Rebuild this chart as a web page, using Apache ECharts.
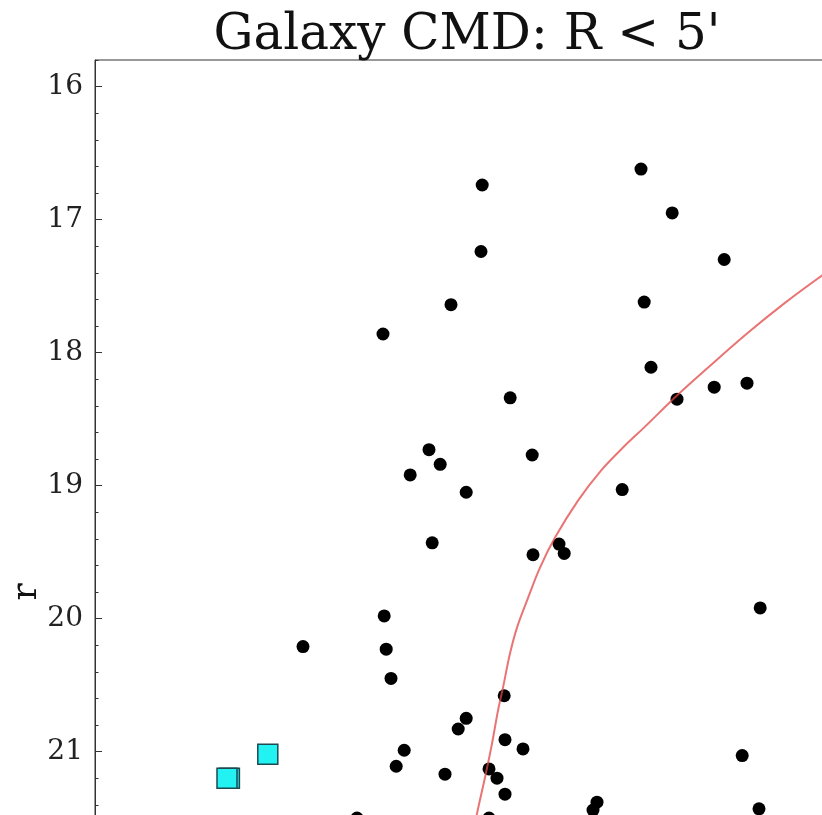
<!DOCTYPE html>
<html>
<head>
<meta charset="utf-8">
<script src="https://cdn.jsdelivr.net/npm/echarts@6/dist/echarts.min.js"></script>
<style>html,body{margin:0;padding:0;background:#fff}#c{width:822px;height:815px}</style>
</head>
<body>
<div id="c"></div>
<script>
// Stars: colour index (x) and r magnitude (y)
const starColor = [0.468,0.465,0.390,0.220,0.865,0.943,1.073,0.873,0.890,0.955,1.048,1.130,0.538,0.335,0.363,0.288,0.593,0.428,0.818,0.343,0.595,0.660,0.673,0.223,0.020,0.228,0.240,1.163,0.523,0.428,0.408,0.525,0.570,0.273,0.253,0.375,0.485,0.505,0.525,1.118,0.755,0.745,1.160,0.155,0.485];
const starMag   = [16.74,17.24,17.64,17.86,16.62,16.95,17.30,17.62,18.11,18.35,18.26,18.23,18.34,18.73,18.84,18.92,18.77,19.05,19.03,19.43,19.52,19.44,19.51,19.98,20.21,20.23,20.45,19.92,20.58,20.75,20.83,20.91,20.98,20.99,21.11,21.17,21.13,21.20,21.32,21.03,21.38,21.44,21.43,21.50,21.50];
// Highlighted objects (cyan squares)
const specColor = [-0.164,-0.170,-0.068];
const specMag   = [21.20,21.20,21.02];
// Isochrone / fiducial line
const isoColor = [0.4425,0.455,0.475,0.4925,0.5075,0.52,0.5375,0.555,0.58,0.6125,0.65,0.7075,0.765,0.825,0.8725,0.955,1.03,1.13,1.2225,1.3175,1.3875];
const isoMag   = [21.669,21.466,21.195,20.940,20.692,20.519,20.263,20.068,19.865,19.617,19.391,19.113,18.887,18.699,18.564,18.323,18.120,17.857,17.632,17.421,17.278];
const majorTicks = [16,17,18,19,20,21,22,23];
const titleText = "Galaxy CMD: R < 5'";
const yName = 'r';

const zip = (a,b) => a.map((v,i)=>[v,b[i]]);
const serif = "'DejaVu Serif', serif";
const chart = echarts.init(document.getElementById('c'));
chart.setOption({
  animation: false,
  backgroundColor: '#fff',
  title: {
    text: titleText, left: 467, top: 11, padding: 0, textAlign: 'center',
    textStyle: {fontFamily: serif, fontSize: 50, fontWeight: 'normal', color: '#111'}
  },
  grid: {left: 95, top: 60, right: -17, bottom: -309, outerBoundsMode: 'none', containLabel: false,
         show: true, borderColor: '#333', borderWidth: 1, backgroundColor: 'transparent'},
  xAxis: {type: 'value', min: -0.5, max: 1.36, show: false, splitLine: {show: false}},
  yAxis: [
    {type: 'value', inverse: true, min: 15.8, max: 23.8, interval: 0.2, position: 'left',
     name: yName, nameLocation: 'middle', nameRotate: 90, nameGap: 50, nameMoveOverlap: false,
     nameTextStyle: {fontFamily: serif, fontSize: 36, color: '#111'},
     axisLine: {show: true, onZero: false, lineStyle: {color: '#333', width: 1}},
     axisTick: {show: true, inside: true, length: 7, customValues: majorTicks, lineStyle: {color: '#333'}},
     axisLabel: {show: true, customValues: majorTicks, margin: 12, fontFamily: serif, fontSize: 28, color: '#222'},
     splitLine: {show: false}},
    {type: 'value', inverse: true, min: 15.8, max: 23.8, interval: 0.2, position: 'left',
     axisLine: {show: false, onZero: false},
     axisTick: {show: true, inside: true, length: 3.5, lineStyle: {color: '#333'}},
     axisLabel: {show: false}, splitLine: {show: false}}
  ],
  series: [
    {type: 'scatter', data: zip(starColor, starMag), symbol: 'circle', symbolSize: 13,
     itemStyle: {color: '#000', opacity: 1}, z: 2},
    {type: 'scatter', data: zip(specColor, specMag), symbol: 'rect', symbolSize: 20,
     itemStyle: {color: '#22f2f2', borderColor: '#1c4a52', borderWidth: 1.5, opacity: 1}, z: 3},
    {type: 'line', data: zip(isoColor, isoMag), showSymbol: false, smooth: 0.35, clip: true,
     lineStyle: {color: 'rgba(225,70,70,0.75)', width: 2}, z: 4}
  ]
});
</script>
</body>
</html>
